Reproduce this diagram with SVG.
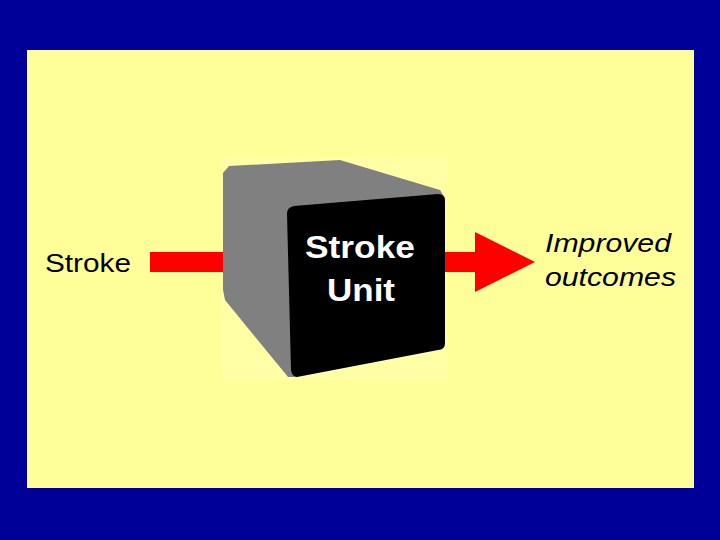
<svg xmlns="http://www.w3.org/2000/svg" width="720" height="540" viewBox="0 0 720 540">
<style>text{font-family:"Liberation Sans",Arial,sans-serif}</style>
<rect width="720" height="540" fill="#000099"/>
<rect x="27" y="50" width="667" height="438" fill="#ffff99"/>
<rect x="222" y="157" width="226" height="223" fill="#ffffa6"/>
<g id="connectors" fill="#ff0000">
<rect x="150" y="252" width="78" height="20"/>
<polygon points="445,252 475,252 475,232 535,262 475,292 475,272 445,272"/>
</g>
<g id="stroke-input"><text x="45" y="272" textLength="86" lengthAdjust="spacingAndGlyphs" style="font-size:25px">Stroke</text></g>
<g id="stroke-unit">
<path d="M229,166 L340,160 L440,190 L445,198 L445,345 L293,377 L288,377 L225,300 L223,290 L223,173 Z" fill="#808080"/>
<path d="M294,206 L438,194 Q445,194 445,201 L445,343 Q445,350 438,350 L297,377 Q292,377 291,370 L287,214 Q287,207 294,206 Z" fill="#000"/>
<text x="305" y="258" textLength="110" lengthAdjust="spacingAndGlyphs" fill="#fff" style="font-size:31px;font-weight:bold">Stroke</text>
<text x="327" y="301" textLength="68" lengthAdjust="spacingAndGlyphs" fill="#fff" style="font-size:31px;font-weight:bold">Unit</text>
</g>
<g id="outcomes" style="font-size:26px;font-style:italic"><text x="545" y="252" textLength="126" lengthAdjust="spacingAndGlyphs">Improved</text><text x="545" y="286" textLength="131" lengthAdjust="spacingAndGlyphs">outcomes</text></g>
</svg>
